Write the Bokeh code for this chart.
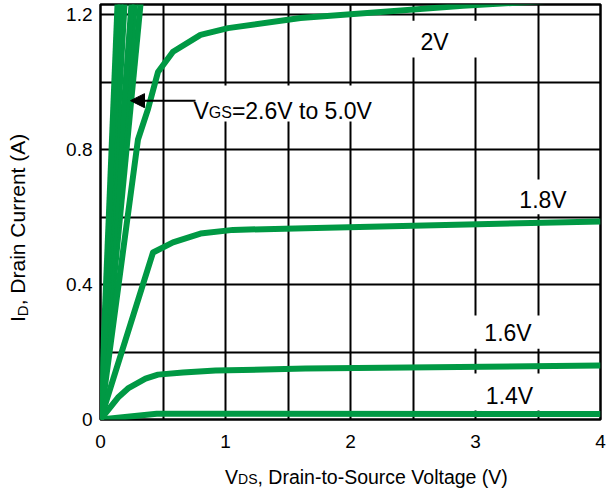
import math
from bokeh.plotting import figure
from bokeh.layouts import row, column
from bokeh.models import (Range1d, SingleIntervalTicker, FixedTicker, Label,
                          BoxAnnotation, Arrow, NormalHead, Div)
from bokeh.embed import file_html
from bokeh.resources import INLINE

# ---------------- data ----------------
# VGS = 2.0 V
vds_2v = [0, 0.30, 0.38, 0.46, 0.58, 0.80, 1.02, 1.60, 2.90, 4.00]
id_2v = [0, 0.83, 0.92, 1.03, 1.09, 1.14, 1.16, 1.19, 1.226, 1.25]
# VGS = 1.8 V
vds_18 = [0, 0.42, 0.58, 0.80, 1.06, 1.64, 4.00]
id_18 = [0, 0.495, 0.525, 0.551, 0.562, 0.567, 0.587]
# VGS = 1.6 V
vds_16 = [0, 0.14, 0.22, 0.36, 0.46, 0.66, 0.92, 1.64, 4.00]
id_16 = [0, 0.065, 0.092, 0.121, 0.133, 0.139, 0.145, 0.151, 0.160]
# VGS = 1.4 V
vds_14 = [0, 0.45, 4.00]
id_14 = [0, 0.017, 0.016]
# VGS = 2.6 V ... 5.0 V (steep, linear region only)
vgs_high = ["2.6V", "3.0V", "3.5V", "4.0V", "4.5V", "5.0V"]
vds_high = [[0, 0.338], [0, 0.290], [0, 0.262], [0, 0.203], [0, 0.169], [0, 0.144]]
id_high = [[0, 1.30], [0, 1.30], [0, 1.30], [0, 1.30], [0, 1.30], [0, 1.30]]

x_ticks = [0, 1, 2, 3, 4]
x_tick_labels = ["0", "1", "2", "3", "4"]
y_ticks = [0, 0.4, 0.8, 1.2]
y_tick_labels = ["0", "0.4", "0.8", "1.2"]

GREEN = "#009944"
FONT = "Liberation Sans"
CSS_FONT = "'Liberation Sans', Arial, sans-serif"

# ---------------- figure ----------------
p = figure(width=566, height=455,
           x_range=Range1d(0, 4), y_range=Range1d(0, 1.23),
           output_backend="svg", toolbar_location=None,
           min_border_left=60, min_border_right=6,
           min_border_top=4, min_border_bottom=36)
p.background_fill_color = "white"
p.border_fill_color = "white"
p.outline_line_color = "black"
p.outline_line_width = 2.5

p.xgrid.ticker = SingleIntervalTicker(interval=0.5, num_minor_ticks=0)
p.ygrid.ticker = SingleIntervalTicker(interval=0.2, num_minor_ticks=0)
p.grid.grid_line_color = "black"
p.grid.grid_line_width = 2
p.grid.grid_line_alpha = 1.0

p.xaxis.ticker = FixedTicker(ticks=x_ticks)
p.yaxis.ticker = FixedTicker(ticks=y_ticks)
p.xaxis.major_label_overrides = dict(zip(x_ticks, x_tick_labels))
p.yaxis.major_label_overrides = dict(zip(y_ticks, y_tick_labels))
for ax in (p.xaxis, p.yaxis):
    ax.axis_line_color = None
    ax.major_tick_line_color = None
    ax.minor_tick_line_color = None
    ax.major_tick_out = 0
    ax.major_tick_in = 0
    ax.minor_tick_out = 0
    ax.minor_tick_in = 0
    ax.major_label_text_font = FONT
    ax.major_label_text_font_size = "19px"
    ax.major_label_text_color = "black"
p.xaxis.major_label_standoff = 15
p.yaxis.major_label_standoff = 8
p.yaxis.major_label_text_baseline = "hanging"

# white boxes behind the curve labels (they interrupt the grid)
boxes = [
    (2.42, 3.08, 1.073, 1.182),   # 2V
    (0.68, 2.28, 0.883, 0.990),   # VGS=2.6V to 5.0V
    (3.24, 3.84, 0.608, 0.711),   # 1.8V
    (2.94, 3.56, 0.210, 0.308),   # 1.6V
    (2.94, 3.56, 0.027, 0.136),   # 1.4V
]
for l, r, b, t in boxes:
    p.add_layout(BoxAnnotation(left=l, right=r, bottom=b, top=t,
                               fill_color="white", fill_alpha=1.0,
                               line_color=None, level="underlay"))

# ---------------- curves ----------------
line_kw = dict(line_color=GREEN, line_width=6, line_join="round")
for xs, ys in zip(vds_high, id_high):
    p.line(xs, ys, **line_kw)
p.line(vds_2v, id_2v, **line_kw)
p.line(vds_18, id_18, **line_kw)
p.line(vds_16, id_16, **line_kw)
p.line(vds_14, id_14, **line_kw)

# ---------------- curve labels ----------------
UP = 9 / 337.5  # small upward correction of the text baseline
lab_kw = dict(text_font=FONT, text_font_size="23px", text_color="black",
              text_align="center", text_baseline="alphabetic")
p.add_layout(Label(x=2.672, y=1.093 + UP, text="2V", **lab_kw))
p.add_layout(Label(x=3.54, y=0.625 + UP, text="1.8V", **lab_kw))
p.add_layout(Label(x=3.26, y=0.231 + UP, text="1.6V", **lab_kw))
p.add_layout(Label(x=3.272, y=0.0444 + UP, text="1.4V", **lab_kw))

# VGS=2.6V to 5.0V with subscript
sub_kw = dict(text_font=FONT, text_color="black", text_align="left",
              text_baseline="alphabetic")
p.add_layout(Label(x=0.744, y=0.889 + UP, text="V", text_font_size="23px", **sub_kw))
p.add_layout(Label(x=0.744, y=0.883 + UP, x_offset=15.3, text="GS",
                   text_font_size="16px", **sub_kw))
p.add_layout(Label(x=0.744, y=0.889 + UP, x_offset=38.4, text="=2.6V to 5.0V",
                   text_font_size="23px", **sub_kw))
p.add_layout(Arrow(end=NormalHead(size=14, fill_color="black", line_color="black",
                                  line_width=1),
                   x_start=0.76, y_start=0.945, x_end=0.24, y_end=0.945,
                   line_color="black", line_width=2))

# ---------------- axis titles (HTML text with subscripts) ----------------
ytitle = Div(
    text=(f'<div style="position:absolute; left:7px; top:322px; '
          f'transform-origin:0 0; transform:rotate(-90deg); white-space:nowrap; '
          f'font-family:{CSS_FONT}; font-size:21px; line-height:21px; color:black;">'
          f'I<span style="font-size:15px; vertical-align:-3px;">D</span>'
          f', Drain Current (A)</div>'),
    width=40, height=455, margin=0, styles={"position": "relative"})

xtitle = Div(
    text=(f'<div style="padding-left:225px; padding-top:13px; white-space:nowrap; '
          f'font-family:{CSS_FONT}; font-size:19.5px; line-height:19px; color:black;">'
          f'V<span style="font-size:14px;">DS</span>'
          f', Drain-to-Source Voltage (V)</div>'),
    width=606, height=37, margin=0)

layout = column(row(ytitle, p, spacing=0), xtitle, spacing=0)

open("out.html", "w").write(file_html(layout, INLINE))
